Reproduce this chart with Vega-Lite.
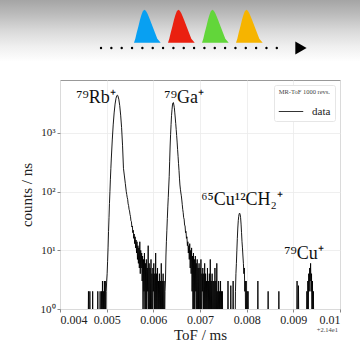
{
  "$schema": "https://vega.github.io/schema/vega-lite/v6.json",
  "autosize": "none",
  "padding": {"left": 60, "top": 80, "right": 20, "bottom": 33},
  "width": 280,
  "height": 229,
  "background": "white",
  "config": {
    "font": "Liberation Serif",
    "view": {"stroke": "#999", "strokeWidth": 1},
    "axis": {
      "labelFont": "Liberation Serif",
      "titleFont": "Liberation Serif",
      "titleFontWeight": "normal",
      "labelColor": "#222",
      "titleColor": "#222",
      "gridColor": "#ebebeb",
      "gridWidth": 0.8,
      "domain": false,
      "tickColor": "#888",
      "tickSize": 3,
      "labelPadding": 2
    }
  },
  "datasets": {
    "one": [{"note": "annotation"}],
    "spec": [
      {"tof": 0.00400, "counts": 0.3},
      {"tof": 0.00460, "counts": 0.3},
      {"tof": 0.00461, "counts": 2},
      {"tof": 0.00462, "counts": 0.3},
      {"tof": 0.00463, "counts": 0.3},
      {"tof": 0.00464, "counts": 2},
      {"tof": 0.00465, "counts": 0.3},
      {"tof": 0.00469, "counts": 0.3},
      {"tof": 0.00470, "counts": 2},
      {"tof": 0.00471, "counts": 0.3},
      {"tof": 0.00480, "counts": 0.3},
      {"tof": 0.00481, "counts": 2},
      {"tof": 0.00482, "counts": 0.3},
      {"tof": 0.00485, "counts": 0.3},
      {"tof": 0.00486, "counts": 2},
      {"tof": 0.00487, "counts": 0.3},
      {"tof": 0.00488, "counts": 0.3},
      {"tof": 0.00489, "counts": 2},
      {"tof": 0.00490, "counts": 0.3},
      {"tof": 0.00491, "counts": 3},
      {"tof": 0.00492, "counts": 0.3},
      {"tof": 0.00493, "counts": 2},
      {"tof": 0.00494, "counts": 0.3},
      {"tof": 0.00495, "counts": 3},
      {"tof": 0.00496, "counts": 1},
      {"tof": 0.00497, "counts": 3},
      {"tof": 0.00498, "counts": 0.3},
      {"tof": 0.00499, "counts": 2},
      {"tof": 0.00500, "counts": 3},
      {"tof": 0.00501, "counts": 4},
      {"tof": 0.00502, "counts": 6.5},
      {"tof": 0.00503, "counts": 11},
      {"tof": 0.00504, "counts": 21},
      {"tof": 0.00505, "counts": 36},
      {"tof": 0.00506, "counts": 63},
      {"tof": 0.00507, "counts": 100},
      {"tof": 0.00508, "counts": 163},
      {"tof": 0.00509, "counts": 250},
      {"tof": 0.00510, "counts": 374},
      {"tof": 0.00512, "counts": 761},
      {"tof": 0.00514, "counts": 1373},
      {"tof": 0.00516, "counts": 2195},
      {"tof": 0.00518, "counts": 3108},
      {"tof": 0.00520, "counts": 3911},
      {"tof": 0.00522, "counts": 4360},
      {"tof": 0.00523, "counts": 4400},
      {"tof": 0.00524, "counts": 4305},
      {"tof": 0.00526, "counts": 3771},
      {"tof": 0.00528, "counts": 2925},
      {"tof": 0.00530, "counts": 2014},
      {"tof": 0.00532, "counts": 1232},
      {"tof": 0.00534, "counts": 620},
      {"tof": 0.00536, "counts": 250},
      {"tof": 0.00538, "counts": 185},
      {"tof": 0.00540, "counts": 137},
      {"tof": 0.00542, "counts": 100},
      {"tof": 0.00543, "counts": 90},
      {"tof": 0.00544, "counts": 80},
      {"tof": 0.00545, "counts": 74},
      {"tof": 0.00546, "counts": 62},
      {"tof": 0.00547, "counts": 58},
      {"tof": 0.00548, "counts": 50},
      {"tof": 0.00549, "counts": 47},
      {"tof": 0.00550, "counts": 41},
      {"tof": 0.00551, "counts": 38},
      {"tof": 0.00552, "counts": 32},
      {"tof": 0.00553, "counts": 31},
      {"tof": 0.00554, "counts": 25},
      {"tof": 0.00555, "counts": 26},
      {"tof": 0.00556, "counts": 20},
      {"tof": 0.00557, "counts": 22},
      {"tof": 0.00558, "counts": 16},
      {"tof": 0.00559, "counts": 19},
      {"tof": 0.00560, "counts": 13},
      {"tof": 0.00561, "counts": 17},
      {"tof": 0.00562, "counts": 11},
      {"tof": 0.00563, "counts": 15},
      {"tof": 0.00564, "counts": 9},
      {"tof": 0.00565, "counts": 14},
      {"tof": 0.00566, "counts": 7},
      {"tof": 0.00567, "counts": 12},
      {"tof": 0.00568, "counts": 6},
      {"tof": 0.00569, "counts": 11},
      {"tof": 0.00570, "counts": 5},
      {"tof": 0.00571, "counts": 14},
      {"tof": 0.00572, "counts": 4},
      {"tof": 0.00573, "counts": 10},
      {"tof": 0.00574, "counts": 5},
      {"tof": 0.00575, "counts": 9},
      {"tof": 0.00576, "counts": 3},
      {"tof": 0.00577, "counts": 8},
      {"tof": 0.00578, "counts": 0.3},
      {"tof": 0.00579, "counts": 7},
      {"tof": 0.00580, "counts": 2},
      {"tof": 0.00581, "counts": 9},
      {"tof": 0.00582, "counts": 0.3},
      {"tof": 0.00583, "counts": 6},
      {"tof": 0.00584, "counts": 1},
      {"tof": 0.00585, "counts": 7},
      {"tof": 0.00586, "counts": 0.3},
      {"tof": 0.00587, "counts": 5},
      {"tof": 0.00588, "counts": 2},
      {"tof": 0.00589, "counts": 12},
      {"tof": 0.00590, "counts": 0.3},
      {"tof": 0.00591, "counts": 6},
      {"tof": 0.00592, "counts": 0.3},
      {"tof": 0.00593, "counts": 5},
      {"tof": 0.00594, "counts": 1},
      {"tof": 0.00595, "counts": 7},
      {"tof": 0.00596, "counts": 0.3},
      {"tof": 0.00597, "counts": 4},
      {"tof": 0.00598, "counts": 0.3},
      {"tof": 0.00599, "counts": 5},
      {"tof": 0.00600, "counts": 2},
      {"tof": 0.00601, "counts": 6},
      {"tof": 0.00602, "counts": 0.3},
      {"tof": 0.00603, "counts": 4},
      {"tof": 0.00604, "counts": 0.3},
      {"tof": 0.00605, "counts": 9},
      {"tof": 0.00606, "counts": 0.3},
      {"tof": 0.00607, "counts": 4},
      {"tof": 0.00608, "counts": 1},
      {"tof": 0.00609, "counts": 5},
      {"tof": 0.00610, "counts": 0.3},
      {"tof": 0.00611, "counts": 3},
      {"tof": 0.00612, "counts": 0.3},
      {"tof": 0.00613, "counts": 4},
      {"tof": 0.00614, "counts": 0.3},
      {"tof": 0.00615, "counts": 3},
      {"tof": 0.00616, "counts": 0.3},
      {"tof": 0.00617, "counts": 6},
      {"tof": 0.00618, "counts": 0.3},
      {"tof": 0.00619, "counts": 3},
      {"tof": 0.00620, "counts": 1},
      {"tof": 0.00621, "counts": 4},
      {"tof": 0.00622, "counts": 0.3},
      {"tof": 0.00623, "counts": 3},
      {"tof": 0.00624, "counts": 0.3},
      {"tof": 0.00625, "counts": 2},
      {"tof": 0.00626, "counts": 3},
      {"tof": 0.00627, "counts": 8},
      {"tof": 0.00628, "counts": 14},
      {"tof": 0.00629, "counts": 22},
      {"tof": 0.00630, "counts": 35},
      {"tof": 0.00631, "counts": 55},
      {"tof": 0.00632, "counts": 80},
      {"tof": 0.00633, "counts": 120},
      {"tof": 0.00634, "counts": 180},
      {"tof": 0.00635, "counts": 330},
      {"tof": 0.00636, "counts": 600},
      {"tof": 0.00637, "counts": 950},
      {"tof": 0.00638, "counts": 1400},
      {"tof": 0.00639, "counts": 2000},
      {"tof": 0.00640, "counts": 2500},
      {"tof": 0.00641, "counts": 3000},
      {"tof": 0.00642, "counts": 3250},
      {"tof": 0.00643, "counts": 3300},
      {"tof": 0.00644, "counts": 3000},
      {"tof": 0.00645, "counts": 2700},
      {"tof": 0.00646, "counts": 2200},
      {"tof": 0.00647, "counts": 1800},
      {"tof": 0.00648, "counts": 1450},
      {"tof": 0.00649, "counts": 1150},
      {"tof": 0.00650, "counts": 900},
      {"tof": 0.00651, "counts": 700},
      {"tof": 0.00652, "counts": 520},
      {"tof": 0.00653, "counts": 400},
      {"tof": 0.00654, "counts": 300},
      {"tof": 0.00655, "counts": 230},
      {"tof": 0.00656, "counts": 170},
      {"tof": 0.00657, "counts": 130},
      {"tof": 0.00658, "counts": 110},
      {"tof": 0.00659, "counts": 95},
      {"tof": 0.00660, "counts": 85},
      {"tof": 0.00661, "counts": 72},
      {"tof": 0.00662, "counts": 60},
      {"tof": 0.00663, "counts": 50},
      {"tof": 0.00664, "counts": 44},
      {"tof": 0.00665, "counts": 36},
      {"tof": 0.00666, "counts": 34},
      {"tof": 0.00667, "counts": 27},
      {"tof": 0.00668, "counts": 26},
      {"tof": 0.00669, "counts": 20},
      {"tof": 0.00670, "counts": 21},
      {"tof": 0.00671, "counts": 16},
      {"tof": 0.00672, "counts": 17},
      {"tof": 0.00673, "counts": 12},
      {"tof": 0.00674, "counts": 14},
      {"tof": 0.00675, "counts": 9},
      {"tof": 0.00676, "counts": 12},
      {"tof": 0.00677, "counts": 7},
      {"tof": 0.00678, "counts": 13},
      {"tof": 0.00679, "counts": 5},
      {"tof": 0.00680, "counts": 10},
      {"tof": 0.00681, "counts": 4},
      {"tof": 0.00682, "counts": 11},
      {"tof": 0.00683, "counts": 2},
      {"tof": 0.00684, "counts": 8},
      {"tof": 0.00685, "counts": 0.3},
      {"tof": 0.00686, "counts": 9},
      {"tof": 0.00687, "counts": 1},
      {"tof": 0.00688, "counts": 7},
      {"tof": 0.00689, "counts": 0.3},
      {"tof": 0.00690, "counts": 8},
      {"tof": 0.00691, "counts": 2},
      {"tof": 0.00692, "counts": 6},
      {"tof": 0.00693, "counts": 0.3},
      {"tof": 0.00694, "counts": 7},
      {"tof": 0.00695, "counts": 0.3},
      {"tof": 0.00696, "counts": 5},
      {"tof": 0.00697, "counts": 1},
      {"tof": 0.00698, "counts": 6},
      {"tof": 0.00699, "counts": 0.3},
      {"tof": 0.00700, "counts": 5},
      {"tof": 0.00701, "counts": 0.3},
      {"tof": 0.00702, "counts": 7},
      {"tof": 0.00703, "counts": 0.3},
      {"tof": 0.00704, "counts": 4},
      {"tof": 0.00705, "counts": 2},
      {"tof": 0.00706, "counts": 5},
      {"tof": 0.00707, "counts": 0.3},
      {"tof": 0.00708, "counts": 4},
      {"tof": 0.00709, "counts": 0.3},
      {"tof": 0.00710, "counts": 6},
      {"tof": 0.00711, "counts": 0.3},
      {"tof": 0.00712, "counts": 4},
      {"tof": 0.00713, "counts": 1},
      {"tof": 0.00714, "counts": 3},
      {"tof": 0.00715, "counts": 0.3},
      {"tof": 0.00716, "counts": 5},
      {"tof": 0.00717, "counts": 0.3},
      {"tof": 0.00718, "counts": 3},
      {"tof": 0.00719, "counts": 0.3},
      {"tof": 0.00720, "counts": 4},
      {"tof": 0.00721, "counts": 0.3},
      {"tof": 0.00722, "counts": 7},
      {"tof": 0.00723, "counts": 0.3},
      {"tof": 0.00724, "counts": 3},
      {"tof": 0.00725, "counts": 1},
      {"tof": 0.00726, "counts": 4},
      {"tof": 0.00727, "counts": 0.3},
      {"tof": 0.00728, "counts": 3},
      {"tof": 0.00729, "counts": 0.3},
      {"tof": 0.00730, "counts": 3},
      {"tof": 0.00731, "counts": 0.3},
      {"tof": 0.00732, "counts": 5},
      {"tof": 0.00733, "counts": 0.3},
      {"tof": 0.00734, "counts": 3},
      {"tof": 0.00735, "counts": 0.3},
      {"tof": 0.00736, "counts": 6},
      {"tof": 0.00737, "counts": 0.3},
      {"tof": 0.00738, "counts": 2},
      {"tof": 0.00739, "counts": 0.3},
      {"tof": 0.00740, "counts": 3},
      {"tof": 0.00741, "counts": 0.3},
      {"tof": 0.00742, "counts": 2},
      {"tof": 0.00743, "counts": 0.3},
      {"tof": 0.00744, "counts": 3},
      {"tof": 0.00745, "counts": 0.3},
      {"tof": 0.00746, "counts": 2},
      {"tof": 0.00747, "counts": 0.3},
      {"tof": 0.00748, "counts": 2},
      {"tof": 0.00749, "counts": 0.3},
      {"tof": 0.00759, "counts": 0.3},
      {"tof": 0.00760, "counts": 3},
      {"tof": 0.00761, "counts": 0.3},
      {"tof": 0.00765, "counts": 0.3},
      {"tof": 0.00766, "counts": 2.5},
      {"tof": 0.00767, "counts": 0.3},
      {"tof": 0.00770, "counts": 0.3},
      {"tof": 0.00771, "counts": 3},
      {"tof": 0.00772, "counts": 0.3},
      {"tof": 0.00775, "counts": 0.3},
      {"tof": 0.00776, "counts": 2},
      {"tof": 0.00777, "counts": 4},
      {"tof": 0.00778, "counts": 6},
      {"tof": 0.00779, "counts": 10},
      {"tof": 0.00780, "counts": 16},
      {"tof": 0.00781, "counts": 24},
      {"tof": 0.00782, "counts": 32},
      {"tof": 0.00783, "counts": 38},
      {"tof": 0.00784, "counts": 42},
      {"tof": 0.00785, "counts": 43},
      {"tof": 0.00786, "counts": 41},
      {"tof": 0.00787, "counts": 36},
      {"tof": 0.00788, "counts": 28},
      {"tof": 0.00789, "counts": 20},
      {"tof": 0.00790, "counts": 14},
      {"tof": 0.00791, "counts": 11},
      {"tof": 0.00792, "counts": 8},
      {"tof": 0.00793, "counts": 6},
      {"tof": 0.00794, "counts": 4},
      {"tof": 0.00795, "counts": 5},
      {"tof": 0.00796, "counts": 2},
      {"tof": 0.00797, "counts": 3},
      {"tof": 0.00798, "counts": 0.3},
      {"tof": 0.00799, "counts": 3},
      {"tof": 0.00800, "counts": 0.3},
      {"tof": 0.00801, "counts": 2},
      {"tof": 0.00802, "counts": 0.3},
      {"tof": 0.00803, "counts": 2},
      {"tof": 0.00804, "counts": 0.3},
      {"tof": 0.00823, "counts": 0.3},
      {"tof": 0.00824, "counts": 3},
      {"tof": 0.00825, "counts": 0.3},
      {"tof": 0.00845, "counts": 0.3},
      {"tof": 0.00846, "counts": 2},
      {"tof": 0.00847, "counts": 0.3},
      {"tof": 0.00868, "counts": 0.3},
      {"tof": 0.00869, "counts": 2},
      {"tof": 0.00870, "counts": 0.3},
      {"tof": 0.00907, "counts": 0.3},
      {"tof": 0.00908, "counts": 3},
      {"tof": 0.00909, "counts": 0.3},
      {"tof": 0.00910, "counts": 0.3},
      {"tof": 0.00911, "counts": 2.5},
      {"tof": 0.00912, "counts": 0.3},
      {"tof": 0.00928, "counts": 0.3},
      {"tof": 0.00929, "counts": 2},
      {"tof": 0.00930, "counts": 0.3},
      {"tof": 0.00931, "counts": 3},
      {"tof": 0.00932, "counts": 1},
      {"tof": 0.00933, "counts": 4},
      {"tof": 0.00934, "counts": 2},
      {"tof": 0.00935, "counts": 5},
      {"tof": 0.00936, "counts": 3},
      {"tof": 0.00937, "counts": 6},
      {"tof": 0.00938, "counts": 2},
      {"tof": 0.00939, "counts": 4},
      {"tof": 0.00940, "counts": 0.3},
      {"tof": 0.00941, "counts": 3},
      {"tof": 0.00942, "counts": 0.3},
      {"tof": 0.00943, "counts": 2},
      {"tof": 0.00944, "counts": 0.3},
      {"tof": 0.01000, "counts": 0.3}
    ],
    "labels": [
      {"tof": 0.00477, "counts": 3980, "label": "⁷⁹Rb⁺"},
      {"tof": 0.00666, "counts": 3980, "label": "⁷⁹Ga⁺"},
      {"tof": 0.00790, "counts": 72, "label": "⁶⁵Cu¹²CH₂⁺"},
      {"tof": 0.00923, "counts": 8.7, "label": "⁷⁹Cu⁺"}
    ],
    "bunches": [
      {"bunch": "a", "tof": 0.0055857, "counts": 34600},
      {"bunch": "a", "tof": 0.0056136, "counts": 40500},
      {"bunch": "a", "tof": 0.0056436, "counts": 51300},
      {"bunch": "a", "tof": 0.0056779, "counts": 64900},
      {"bunch": "a", "tof": 0.0057143, "counts": 85500},
      {"bunch": "a", "tof": 0.0057422, "counts": 102000},
      {"bunch": "a", "tof": 0.0057743, "counts": 119300},
      {"bunch": "a", "tof": 0.0058064, "counts": 126600},
      {"bunch": "a", "tof": 0.0058386, "counts": 121700},
      {"bunch": "a", "tof": 0.0058707, "counts": 110300},
      {"bunch": "a", "tof": 0.0059029, "counts": 96100},
      {"bunch": "a", "tof": 0.0059286, "counts": 85500},
      {"bunch": "a", "tof": 0.0059779, "counts": 67500},
      {"bunch": "a", "tof": 0.0060357, "counts": 51300},
      {"bunch": "a", "tof": 0.0060850, "counts": 40500},
      {"bunch": "a", "tof": 0.0061579, "counts": 34600},
      {"bunch": "b", "tof": 0.0063143, "counts": 34600},
      {"bunch": "b", "tof": 0.0063422, "counts": 40500},
      {"bunch": "b", "tof": 0.0063722, "counts": 51300},
      {"bunch": "b", "tof": 0.0064065, "counts": 64900},
      {"bunch": "b", "tof": 0.0064429, "counts": 85500},
      {"bunch": "b", "tof": 0.0064708, "counts": 102000},
      {"bunch": "b", "tof": 0.0065029, "counts": 119300},
      {"bunch": "b", "tof": 0.0065350, "counts": 126600},
      {"bunch": "b", "tof": 0.0065672, "counts": 121700},
      {"bunch": "b", "tof": 0.0065993, "counts": 110300},
      {"bunch": "b", "tof": 0.0066315, "counts": 96100},
      {"bunch": "b", "tof": 0.0066572, "counts": 85500},
      {"bunch": "b", "tof": 0.0067065, "counts": 67500},
      {"bunch": "b", "tof": 0.0067643, "counts": 51300},
      {"bunch": "b", "tof": 0.0068136, "counts": 40500},
      {"bunch": "b", "tof": 0.0068865, "counts": 34600},
      {"bunch": "c", "tof": 0.0070429, "counts": 34600},
      {"bunch": "c", "tof": 0.0070708, "counts": 40500},
      {"bunch": "c", "tof": 0.0071008, "counts": 51300},
      {"bunch": "c", "tof": 0.0071351, "counts": 64900},
      {"bunch": "c", "tof": 0.0071715, "counts": 85500},
      {"bunch": "c", "tof": 0.0071994, "counts": 102000},
      {"bunch": "c", "tof": 0.0072315, "counts": 119300},
      {"bunch": "c", "tof": 0.0072636, "counts": 126600},
      {"bunch": "c", "tof": 0.0072958, "counts": 121700},
      {"bunch": "c", "tof": 0.0073279, "counts": 110300},
      {"bunch": "c", "tof": 0.0073601, "counts": 96100},
      {"bunch": "c", "tof": 0.0073858, "counts": 85500},
      {"bunch": "c", "tof": 0.0074351, "counts": 67500},
      {"bunch": "c", "tof": 0.0074929, "counts": 51300},
      {"bunch": "c", "tof": 0.0075422, "counts": 40500},
      {"bunch": "c", "tof": 0.0076151, "counts": 34600},
      {"bunch": "d", "tof": 0.0077715, "counts": 34600},
      {"bunch": "d", "tof": 0.0077994, "counts": 40500},
      {"bunch": "d", "tof": 0.0078294, "counts": 51300},
      {"bunch": "d", "tof": 0.0078637, "counts": 64900},
      {"bunch": "d", "tof": 0.0079001, "counts": 85500},
      {"bunch": "d", "tof": 0.0079280, "counts": 102000},
      {"bunch": "d", "tof": 0.0079601, "counts": 119300},
      {"bunch": "d", "tof": 0.0079922, "counts": 126600},
      {"bunch": "d", "tof": 0.0080244, "counts": 121700},
      {"bunch": "d", "tof": 0.0080565, "counts": 110300},
      {"bunch": "d", "tof": 0.0080887, "counts": 96100},
      {"bunch": "d", "tof": 0.0081144, "counts": 85500},
      {"bunch": "d", "tof": 0.0081637, "counts": 67500},
      {"bunch": "d", "tof": 0.0082215, "counts": 51300},
      {"bunch": "d", "tof": 0.0082708, "counts": 40500},
      {"bunch": "d", "tof": 0.0083437, "counts": 34600}
    ]
  },
  "layer": [
    {
      "data": {"name": "one"},
      "mark": {
        "type": "rect",
        "fill": {
          "gradient": "linear", "x1": 0, "y1": 0, "x2": 0, "y2": 1,
          "stops": [
            {"offset": 0, "color": "#a4a4a4"},
            {"offset": 0.25, "color": "#bdbdbd"},
            {"offset": 0.5, "color": "#d9d9d9"},
            {"offset": 0.75, "color": "#efefef"},
            {"offset": 1, "color": "#ffffff"}
          ]
        }
      },
      "encoding": {
        "x": {"datum": 0.002714, "type": "quantitative"},
        "x2": {"datum": 0.010429},
        "y": {"datum": 187600, "type": "quantitative"},
        "y2": {"datum": 16400}
      }
    },
    {
      "data": {"name": "bunches"},
      "mark": {"type": "area", "opacity": 1},
      "encoding": {
        "x": {"field": "tof", "type": "quantitative"},
        "y": {"field": "counts", "type": "quantitative"},
        "y2": {"datum": 34600},
        "fill": {
          "field": "bunch", "type": "nominal",
          "scale": {"domain": ["a", "b", "c", "d"], "range": ["#08a0f2", "#ea2010", "#62d63a", "#f6b400"]},
          "legend": null
        }
      }
    },
    {
      "data": {"name": "one"},
      "mark": {"type": "rule", "strokeWidth": 2.4, "strokeCap": "round", "strokeDash": [0.01, 10.33], "color": "#000"},
      "encoding": {
        "x": {"datum": 0.004879, "type": "quantitative"},
        "x2": {"datum": 0.008864},
        "y": {"datum": 28100, "type": "quantitative"}
      }
    },
    {
      "data": {"name": "one"},
      "mark": {"type": "point", "shape": "triangle-right", "filled": true, "size": 170, "color": "#000", "opacity": 1},
      "encoding": {
        "x": {"datum": 0.009164, "type": "quantitative"},
        "y": {"datum": 28100, "type": "quantitative"}
      }
    },
    {
      "data": {"name": "spec"},
      "mark": {"type": "line", "clip": true, "strokeWidth": 0.9},
      "encoding": {
        "x": {
          "field": "tof", "type": "quantitative",
          "scale": {"domain": [0.004, 0.01], "nice": false, "zero": false},
          "axis": {
            "title": "ToF / ms", "titleFontSize": 15, "titlePadding": 2,
            "values": [0.004, 0.005, 0.006, 0.007, 0.008, 0.009, 0.01],
            "format": ".3~f", "labelFontSize": 12, "grid": true
          }
        },
        "y": {
          "field": "counts", "type": "quantitative",
          "scale": {"type": "log", "domain": [1, 8000], "nice": false},
          "axis": {
            "title": "counts / ns", "titleFontSize": 15, "titlePadding": 6,
            "values": [1, 10, 100, 1000],
            "labelExpr": "datum.value == 1 ? '10⁰' : datum.value == 10 ? '10¹' : datum.value == 100 ? '10²' : '10³'",
            "labelFontSize": 11, "grid": true
          }
        },
        "color": {
          "datum": "data",
          "scale": {"range": ["#000000"]},
          "legend": {
            "title": "MR-ToF 1000 revs.",
            "orient": "top-right",
            "offset": 5,
            "titleFont": "Liberation Serif",
            "titleFontSize": 6.5,
            "titleFontWeight": "normal",
            "titleColor": "#444",
            "titleAnchor": "end",
            "titlePadding": 3,
            "labelFont": "Liberation Serif",
            "labelFontSize": 11,
            "labelColor": "#222",
            "labelOffset": 8,
            "symbolType": "stroke",
            "symbolSize": 600,
            "symbolStrokeWidth": 0.8,
            "strokeColor": "#e6e6e6",
            "fillColor": "white",
            "padding": 4,
            "cornerRadius": 2
          }
        }
      }
    },
    {
      "data": {"name": "labels"},
      "mark": {"type": "text", "font": "Liberation Serif", "fontSize": 18, "color": "#111", "align": "center", "baseline": "middle"},
      "encoding": {
        "x": {"field": "tof", "type": "quantitative"},
        "y": {"field": "counts", "type": "quantitative"},
        "text": {"field": "label"}
      }
    },
    {
      "data": {"name": "one"},
      "mark": {"type": "text", "font": "Liberation Serif", "fontSize": 6.5, "color": "#444", "align": "right", "baseline": "middle", "dy": 21, "dx": -2},
      "encoding": {
        "x": {"datum": 0.01, "type": "quantitative"},
        "y": {"datum": 1, "type": "quantitative"},
        "text": {"value": "+2.14e1"}
      }
    }
  ]
}
